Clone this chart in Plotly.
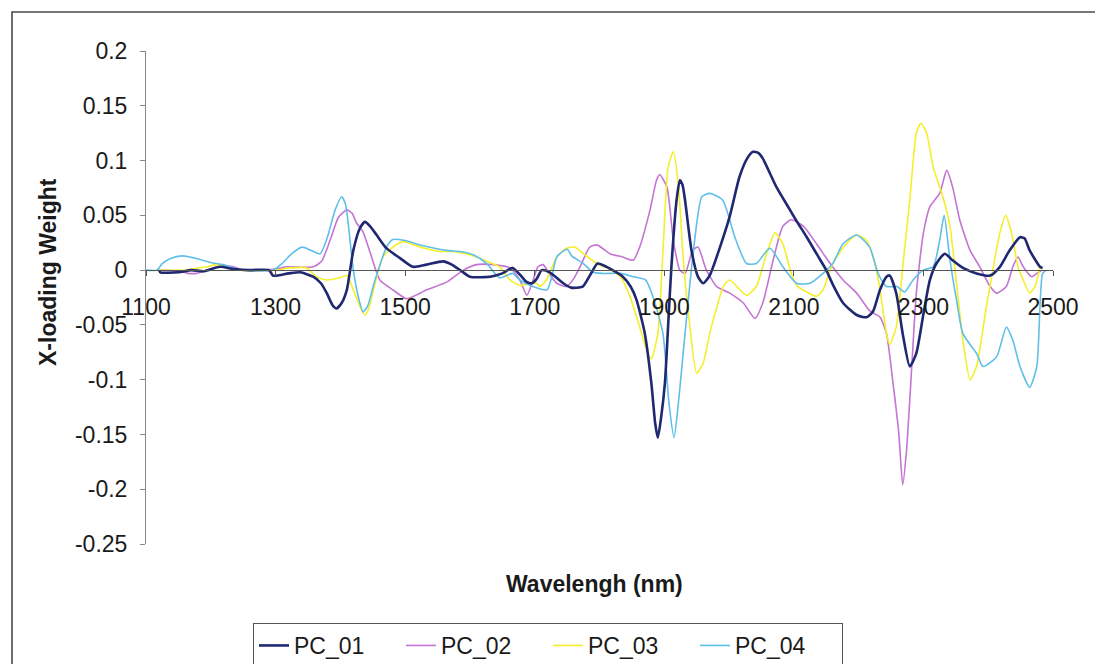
import plotly.graph_objects as go

# PC_01 loading weights
pc01_nm = [1120, 1122, 1150, 1170, 1190, 1214, 1235, 1260, 1290, 1296, 1320, 1338, 1358, 1370, 1379,
           1388, 1394, 1402, 1410, 1420, 1430, 1438, 1446, 1456, 1471, 1492, 1512, 1533, 1559, 1572,
           1585, 1600, 1631, 1650, 1666, 1677, 1688, 1696, 1703, 1711, 1723, 1744, 1756, 1774, 1786,
           1797, 1811, 1836, 1848, 1857, 1870, 1880, 1886, 1890, 1895, 1901, 1906, 1911, 1919, 1924,
           1928, 1932, 1942, 1952, 1960, 1970, 1986, 2001, 2016, 2028, 2037, 2045, 2052, 2073, 2094,
           2104, 2120, 2135, 2150, 2160, 2176, 2197, 2212, 2222, 2233, 2243, 2248, 2258, 2268, 2279,
           2289, 2300, 2310, 2320, 2333, 2345, 2361, 2382, 2403, 2418, 2433, 2449, 2456, 2464, 2480, 2484]
pc01_val = [0, -0.002, -0.002, 0, -0.001, 0.003, 0.001, 0, 0, -0.005, -0.003, -0.002, -0.006, -0.012, -0.021,
            -0.032, -0.035, -0.030, -0.018, 0.018, 0.038, 0.044, 0.040, 0.032, 0.020, 0.011, 0.003, 0.005, 0.008, 0.005,
            0, -0.006, -0.006, -0.003, 0.002, -0.004, -0.011, -0.012, -0.008, 0, -0.002, -0.012, -0.016, -0.015, -0.004,
            0.006, 0.003, -0.006, -0.015, -0.027, -0.058, -0.103, -0.140, -0.153, -0.135, -0.103, -0.050, 0.003, 0.064, 0.082,
            0.078, 0.064, 0.018, -0.006, -0.012, -0.005, 0.021, 0.049, 0.085, 0.102, 0.108, 0.107, 0.102, 0.076, 0.055,
            0.045, 0.030, 0.015, 0.0, -0.013, -0.030, -0.041, -0.043, -0.038, -0.018, -0.006, -0.005, -0.021, -0.058, -0.088,
            -0.076, -0.040, -0.009, 0.006, 0.015, 0.009, 0.002, -0.003, -0.005, 0.003, 0.018, 0.030, 0.029, 0.018, 0.003, 0.002]

# PC_02 loading weights
pc02_nm = [1118, 1150, 1165, 1178, 1195, 1210, 1222, 1235, 1250, 1300, 1317, 1358, 1371, 1384, 1397,
           1410, 1418, 1425, 1435, 1446, 1461, 1481, 1502, 1520, 1533, 1564, 1590, 1610, 1636, 1662,
           1677, 1688, 1697, 1705, 1713, 1722, 1734, 1749, 1760, 1770, 1785, 1796, 1816, 1836, 1852,
           1862, 1878, 1888, 1893, 1904, 1914, 1924, 1932, 1944, 1952, 1965, 1981, 2001, 2022, 2040,
           2052, 2068, 2083, 2096, 2115, 2135, 2156, 2176, 2197, 2217, 2233, 2243, 2253, 2262, 2268,
           2274, 2282, 2289, 2300, 2310, 2325, 2336, 2345, 2356, 2372, 2387, 2403, 2413, 2428, 2438,
           2446, 2454, 2467, 2475, 2483]
pc02_val = [0, -0.001, -0.003, -0.003, 0, 0.003, 0.004, 0.003, 0, 0.001, 0.003, 0.003, 0.008, 0.027, 0.048,
            0.055, 0.052, 0.043, 0.035, 0.016, -0.009, -0.018, -0.026, -0.022, -0.018, -0.011, 0, 0.005, 0.005, 0.002,
            -0.009, -0.023, -0.010, 0.003, 0.005, -0.003, -0.012, -0.015, -0.008, 0.003, 0.021, 0.023, 0.015, 0.012, 0.009,
            0.021, 0.055, 0.082, 0.087, 0.076, 0.027, 0, -0.003, 0.018, 0.021, 0, -0.015, -0.021, -0.030, -0.044,
            -0.030, 0.009, 0.040, 0.046, 0.040, 0.024, 0.006, -0.009, -0.021, -0.037, -0.043, -0.058, -0.103, -0.149, -0.196,
            -0.164, -0.088, -0.021, 0.034, 0.058, 0.070, 0.091, 0.076, 0.046, 0.018, 0.003, -0.015, -0.021, -0.015, 0.003,
            0.012, 0.003, -0.006, -0.003, 0]

# PC_03 loading weights
pc03_nm = [1120, 1160, 1180, 1194, 1209, 1225, 1245, 1300, 1322, 1348, 1363, 1379, 1399, 1410, 1420,
           1430, 1438, 1444, 1451, 1466, 1481, 1497, 1523, 1554, 1574, 1600, 1626, 1646, 1662, 1677,
           1693, 1703, 1708, 1718, 1734, 1749, 1762, 1775, 1796, 1811, 1832, 1847, 1862, 1874, 1880,
           1890, 1898, 1906, 1914, 1922, 1929, 1938, 1950, 1960, 1970, 1981, 1991, 2001, 2012, 2027,
           2042, 2058, 2071, 2083, 2096, 2106, 2120, 2135, 2145, 2160, 2181, 2197, 2212, 2225, 2233,
           2243, 2248, 2258, 2268, 2279, 2289, 2296, 2305, 2315, 2330, 2341, 2351, 2361, 2372, 2382,
           2397, 2408, 2418, 2427, 2436, 2446, 2454, 2464, 2472, 2480]
pc03_val = [0, 0, 0.002, 0.003, 0.005, 0.002, 0, 0, 0.002, 0.002, -0.006, -0.009, -0.007, -0.005, -0.018,
            -0.033, -0.041, -0.035, -0.018, 0.012, 0.021, 0.026, 0.021, 0.017, 0.017, 0.014, 0.008, 0.003, -0.009, -0.014,
            -0.012, -0.012, -0.015, -0.009, 0.012, 0.020, 0.021, 0.015, 0.006, 0.002, -0.006, -0.024, -0.052, -0.075, -0.081,
            -0.058, 0.018, 0.094, 0.108, 0.076, 0.012, -0.043, -0.094, -0.085, -0.058, -0.034, -0.015, -0.009, -0.015, -0.023,
            -0.015, 0.015, 0.034, 0.024, -0.003, -0.015, -0.020, -0.024, -0.018, 0.006, 0.024, 0.032, 0.027, 0.006, -0.018,
            -0.058, -0.068, -0.052, 0.003, 0.064, 0.125, 0.134, 0.125, 0.094, 0.067, 0.040, -0.012, -0.064, -0.100, -0.088,
            -0.034, 0.003, 0.034, 0.050, 0.034, 0.003, -0.009, -0.021, -0.015, 0.003]

# PC_04 loading weights
pc04_nm = [1100, 1117, 1125, 1140, 1157, 1175, 1200, 1219, 1235, 1250, 1296, 1310, 1325, 1341, 1355,
           1369, 1380, 1392, 1402, 1408, 1420, 1428, 1435, 1442, 1452, 1464, 1472, 1481, 1500, 1523,
           1564, 1585, 1605, 1626, 1646, 1666, 1677, 1697, 1719, 1726, 1734, 1750, 1757, 1775, 1790,
           1805, 1832, 1852, 1871, 1884, 1898, 1907, 1915, 1922, 1932, 1944, 1958, 1970, 1990, 2009,
           2027, 2042, 2063, 2083, 2104, 2125, 2145, 2160, 2176, 2197, 2217, 2230, 2243, 2259, 2271,
           2284, 2300, 2315, 2325, 2332, 2341, 2351, 2361, 2382, 2392, 2413, 2428, 2438, 2449, 2464,
           2475, 2484, 2490]
pc04_val = [0, 0, 0.006, 0.011, 0.013, 0.011, 0.007, 0.005, 0.002, 0, 0, 0.006, 0.015, 0.021, 0.018,
            0.015, 0.030, 0.055, 0.067, 0.060, 0, -0.025, -0.038, -0.033, -0.012, 0.010, 0.022, 0.028, 0.027, 0.023,
            0.018, 0.017, 0.014, 0.006, -0.007, -0.003, -0.009, -0.015, -0.018, -0.007, 0.012, 0.019, 0.013, 0.006, -0.002,
            -0.003, -0.003, -0.006, -0.009, -0.027, -0.058, -0.120, -0.153, -0.120, -0.058, 0.012, 0.067, 0.070, 0.064, 0.030,
            0.006, 0.006, 0.020, 0.003, -0.012, -0.012, -0.003, 0.006, 0.024, 0.032, 0.021, -0.003, -0.015, -0.015, -0.020,
            -0.009, 0, 0.003, 0.027, 0.050, 0.009, -0.027, -0.058, -0.076, -0.088, -0.079, -0.052, -0.064, -0.088, -0.107,
            -0.088, -0.003, 0]

series_names = ["PC_01", "PC_02", "PC_03", "PC_04"]
series_colors = ["#1f2870", "#c474d2", "#f4ef2a", "#5fbfe8"]
series_widths = [2.6, 1.6, 1.6, 1.6]

x_ticks = [1100, 1300, 1500, 1700, 1900, 2100, 2300, 2500]
y_ticks = [-0.25, -0.2, -0.15, -0.1, -0.05, 0, 0.05, 0.1, 0.15, 0.2]
y_tick_text = ["-0.25", "-0.2", "-0.15", "-0.1", "-0.05", "0", "0.05", "0.1", "0.15", "0.2"]

FONT = "Liberation Sans, Arial, sans-serif"
FS = 23
W, H = 1095, 664
PL, PR, PT, PB = 146, 1053, 51, 544  # plot area in pixels


def px_to_paper(px, py):
    return (px - PL) / (PR - PL), (PB - py) / (PB - PT)


fig = go.Figure()
data = [(pc01_nm, pc01_val), (pc02_nm, pc02_val), (pc03_nm, pc03_val), (pc04_nm, pc04_val)]
# draw the thin series first, the heavy PC_01 line on top
order = [1, 2, 3, 0]
for i in order:
    nm, val = data[i]
    fig.add_trace(go.Scatter(
        x=nm, y=val, mode="lines", name=series_names[i],
        line=dict(color=series_colors[i], width=series_widths[i], shape="spline", smoothing=0.6),
        legendrank=i + 1,
    ))

y_min, y_max = -0.25, 0.2
zero_pos = (0 - y_min) / (y_max - y_min)

fig.update_layout(
    width=W, height=H,
    margin=dict(l=PL, r=W - PR, t=PT, b=H - PB, autoexpand=False),
    paper_bgcolor="white", plot_bgcolor="white",
    font=dict(family=FONT, size=FS, color="#1a1a1a"),
    showlegend=True,
    legend=dict(
        orientation="h", x=px_to_paper(253, 0)[0], y=px_to_paper(0, 623)[1],
        xanchor="left", yanchor="top",
        bordercolor="#555555", borderwidth=1, bgcolor="white",
        font=dict(family=FONT, size=FS, color="#1a1a1a"),
        traceorder="normal", itemwidth=30,
        entrywidth=102, entrywidthmode="pixels",
    ),
    xaxis=dict(
        range=[1100, 2500], tickvals=x_ticks, ticktext=[str(v) for v in x_ticks],
        showgrid=False, zeroline=False, showline=True, linecolor="#555555", linewidth=1.2,
        ticks="outside", ticklen=5, tickcolor="#555555",
        anchor="free", position=zero_pos, ticklabelstandoff=11,
        tickfont=dict(family=FONT, size=FS, color="#1a1a1a"),
    ),
    yaxis=dict(
        range=[y_min, y_max], tickvals=y_ticks, ticktext=y_tick_text,
        showgrid=False, zeroline=False, showline=True, linecolor="#888888", linewidth=1,
        ticks="outside", ticklen=5, tickcolor="#888888", ticklabelstandoff=8,
        tickfont=dict(family=FONT, size=FS, color="#1a1a1a"),
    ),
)

# axis titles
tx, ty = px_to_paper(48, 272)
fig.add_annotation(text="<b>X-loading Weight</b>", x=tx, y=ty, xref="paper", yref="paper",
                   xanchor="center", yanchor="middle",
                   textangle=-90, showarrow=False, font=dict(family=FONT, size=FS, color="#1a1a1a"))
tx, ty = px_to_paper(594, 584)
fig.add_annotation(text="<b>Wavelengh (nm)</b>", x=tx, y=ty, xref="paper", yref="paper",
                   xanchor="center", yanchor="middle",
                   showarrow=False, font=dict(family=FONT, size=FS, color="#1a1a1a"))

# outer chart frame
x0, y0 = px_to_paper(12, 12)
x1, y1 = px_to_paper(1110, 680)
fig.add_shape(type="rect", xref="paper", yref="paper", x0=x0, y0=y1, x1=x1, y1=y0,
              line=dict(color="#4a4a4a", width=1.6), layer="below")

fig.write_html("out.html")
